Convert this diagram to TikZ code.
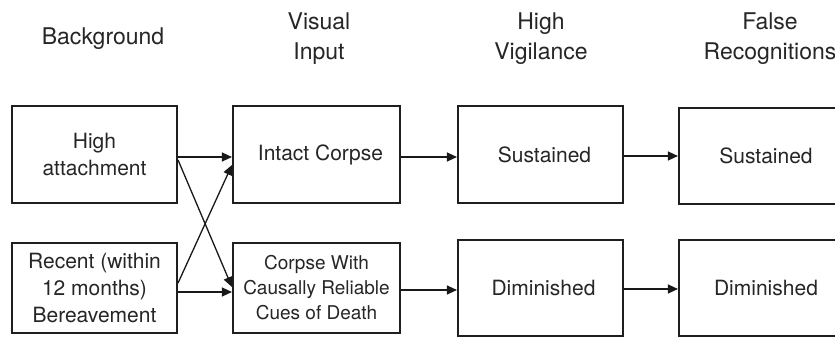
\documentclass[tikz,border=0pt]{standalone}
\usepackage{fontspec}
\setmainfont{TeX Gyre Heros}
\usetikzlibrary{arrows.meta,calc}
\begin{document}
\begin{tikzpicture}[x=1pt,y=-1pt,
  box/.style={draw=black!88, line width=2.1pt, rectangle, inner sep=0pt, align=center,
    font=\fontsize{21}{27}\selectfont, text=black!85},
  hd/.style={align=center, font=\fontsize{23}{29.5}\selectfont, text=black!85, inner sep=0pt},
  arr/.style={line width=1.3pt, draw=black!90, -{Triangle[length=10pt,width=9pt]}}]
\clip (0,0) rectangle (835,339);
\fill[white] (0,0) rectangle (835,339);
% headings
\node[hd] (h1) at (103,39) {Background};
\node[hd] (h2) at (319,38.5) {Visual\\Input};
\node[hd] (h3) at (541,38.5) {High\\Vigilance};
\node[hd] (h4) at (770,38.5) {False\\Recognitions};
% boxes
\node[box, minimum width=165pt, minimum height=97pt] (bg1) at (94.5,154.5) {High\\attachment};
\node[box, minimum width=165pt, minimum height=90pt] (bg2) at (94.5,288) {Recent (within\\12 months)\\Bereavement};
\node[box, minimum width=167pt, minimum height=97pt] (vi1) at (316.5,154.5) {\hspace*{8pt}Intact Corpse};
\node[box, minimum width=167pt, minimum height=90pt, font=\fontsize{19}{25}\selectfont] (vi2) at (316.5,288) {Corpse With\\Causally Reliable\\Cues of Death};
\node[box, minimum width=165pt, minimum height=97pt] (hv1) at (540.5,154.5) {\hspace*{8pt}Sustained};
\node[box, minimum width=165pt, minimum height=96pt] (hv2) at (540.5,288) {\hspace*{6pt}Diminished};
\node[box, minimum width=166pt, minimum height=96pt] (fr1) at (762,156) {\hspace*{8pt}Sustained};
\node[box, minimum width=166pt, minimum height=96pt] (fr2) at (762,288) {\hspace*{8pt}Diminished};
% arrows
\draw[arr] ($(bg1.east)+(0,2.5)$) -- ($(vi1.west)+(0,2.5)$);
\draw[arr] ($(bg1.east)+(0,5.5)$) -- ($(vi2.west)+(0,-1)$);
\draw[arr] ($(bg2.east)+(0,-5)$) -- ($(vi1.west)+(0,10.5)$);
\draw[arr] ($(bg2.east)+(0,4)$) -- ($(vi2.west)+(0,4)$);
\draw[arr] ($(vi1.east)+(0,2.5)$) -- ($(hv1.west)+(0,2.5)$);
\draw[arr] ($(vi2.east)+(0,2)$) -- ($(hv2.west)+(0,2)$);
\draw[arr] ($(hv1.east)+(0,1.5)$) -- ($(fr1.west)+(0,0)$);
\draw[arr] ($(hv2.east)+(0,1)$) -- ($(fr2.west)+(0,1)$);
\end{tikzpicture}
\end{document}
